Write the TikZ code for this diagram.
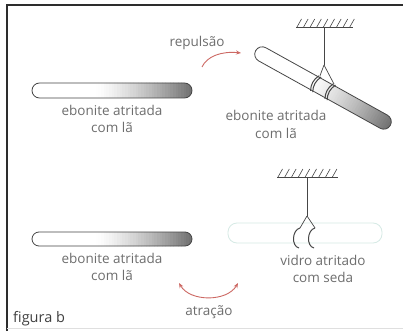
\documentclass[tikz,border=0pt]{standalone}
\usepackage{fontspec}
\setmainfont{Open Sans}
\usetikzlibrary{arrows.meta}
\definecolor{labelgray}{RGB}{110,110,110}
\definecolor{framegray}{RGB}{45,45,45}
\definecolor{rodedge}{RGB}{70,70,70}
\definecolor{roddark}{RGB}{115,115,115}
\definecolor{arrowred}{RGB}{205,105,100}
\definecolor{glassedge}{RGB}{214,234,229}
% a rod of half length #1 and half thickness #2, shaded from white to grey along its axis
\newcommand{\shadedrod}[2]{%
  \begin{scope}
    \clip[rounded corners=#2pt] (-#1,-#2) rectangle (#1,#2);
    \foreach \i in {0,...,59}{
      \pgfmathsetmacro{\p}{\i/59}
      \pgfmathsetmacro{\m}{max(0,(\p-0.4)/0.6)^1.3*100}
      \fill[roddark!\m!white] ({-#1+\i*2*#1/60-0.2},-#2-1) rectangle ({-#1+(\i+1)*2*#1/60+0.3},#2+1);
    }
  \end{scope}
  \draw[rodedge, line width=0.8pt, rounded corners=#2pt] (-#1,-#2) rectangle (#1,#2);
}
\begin{document}
\begin{tikzpicture}[x=1pt,y=-1pt,
  lbl/.style={text=labelgray, font=\fontsize{13.5}{17.5}\selectfont, align=center, inner sep=0pt},
  hang/.style={draw=rodedge, line width=0.7pt},
  ring/.style={draw=rodedge, line width=1pt},
  hatch/.style={draw=rodedge, line width=0.6pt},
  motion/.style={draw=arrowred, line width=0.9pt, -{Stealth[length=5pt,width=4pt]}},
  bothmotion/.style={draw=arrowred, line width=0.9pt, {Stealth[length=5pt,width=4pt]}-{Stealth[length=5pt,width=4pt]}}]
\useasboundingbox (0,0) rectangle (403,331);
\fill[white] (0,0) rectangle (403,331);

% frame
\draw[framegray, line width=1.8pt] (7,331) -- (7,5) -- (403,5);
\draw[gray!25, line width=0.8pt] (7,328) -- (403,328);

% ---------- upper row: repulsion ----------
% fixed ebonite rod
\begin{scope}[shift={(112,90.5)}]
  \shadedrod{80}{7.5}
\end{scope}
\node[lbl] (ebo1) at (112,119) {ebonite atritada\\com lã};

% ceiling
\coordinate (ceilA) at (324,27);
\draw[hatch] (296,27) -- (353,27);
\foreach \i in {0,...,8} \draw[hatch] (297+\i*6.6,27) -- ++(4.5,-8);

% suspended ebonite rod, tilted
\begin{scope}[shift={(323,88)}, rotate=-29]
  \shadedrod{77}{7.5}
  \draw[ring] (-9.5,-8.6) .. controls (-12.5,-3) and (-12.5,3) .. (-9.5,8.6);
  \draw[ring] (-7,-8.6) .. controls (-10,-3) and (-10,3) .. (-7,8.6);
  \draw[ring] (7,-8.6) .. controls (4,-3) and (4,3) .. (7,8.6);
  \draw[ring] (9.5,-8.6) .. controls (6.5,-3) and (6.5,3) .. (9.5,8.6);
  \coordinate (ringA1) at (-8.5,-8.6);
  \coordinate (ringA2) at (8,-8.6);
\end{scope}
\coordinate (splitA) at (324,65);
\draw[hang] (ceilA) -- (splitA);
\draw[hang] (splitA) -- (ringA1);
\draw[hang] (splitA) -- (ringA2);
\node[lbl] (ebo2) at (276,124.5) {ebonite atritada\\com lã};

% repulsion arrow
\node[lbl] (rep) at (197,43) {repulsão};
\coordinate (repS) at (202,67);
\coordinate (repE) at (241,53);
\draw[motion] (repS) .. controls (207,56) and (222,51) .. (repE);

% ---------- lower row: attraction ----------
\begin{scope}[shift={(112,239)}]
  \shadedrod{80}{7}
\end{scope}
\node[lbl] (ebo3) at (112,267) {ebonite atritada\\com lã};

% ceiling
\coordinate (ceilB) at (307,177);
\draw[hatch] (277,177) -- (338,177);
\foreach \i in {0,...,8} \draw[hatch] (278+\i*6.8,177) -- ++(4.5,-8);

% suspended glass rod (almost transparent)
\draw[glassedge, line width=0.8pt, rounded corners=9pt] (228,223) rectangle (382,243);

\coordinate (splitB) at (307,216);
\coordinate (hookB1) at (300,228);
\coordinate (hookB2) at (315,228);
\draw[hang] (ceilB) -- (splitB);
\draw[hang] (splitB) -- (hookB1);
\draw[hang] (splitB) -- (hookB2);
\draw[ring] (hookB1) .. controls (292,230) and (291,246) .. (299,248);
\draw[ring] (hookB2) .. controls (307,230) and (306,246) .. (314,248);
\node[lbl] (vid) at (323,269) {vidro atritado\\com seda};

% attraction arrow
\coordinate (atrS) at (179,283);
\coordinate (atrE) at (238,283);
\draw[bothmotion] (atrS) .. controls (190,302) and (227,302) .. (atrE);
\node[lbl] (atr) at (209,312) {atração};

\node[lbl, anchor=west, text=black!75, font=\fontsize{14.5}{17}\selectfont] (fig) at (13,319) {figura b};
\end{tikzpicture}
\end{document}
